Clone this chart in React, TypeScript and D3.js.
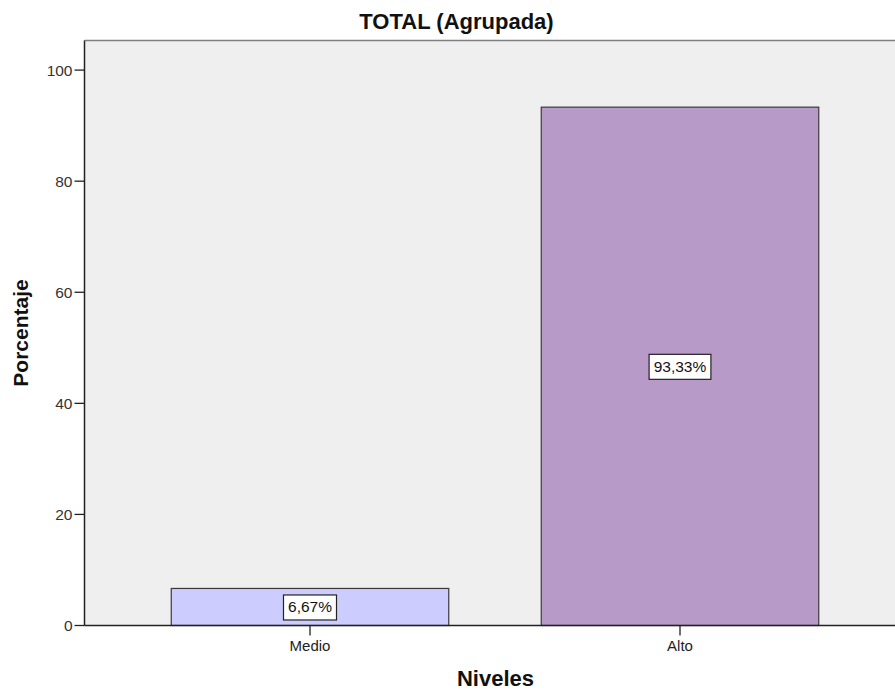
import React from "react";
import * as d3 from "d3";

const categories = ["Medio", "Alto"];
const values = [6.67, 93.33];
const valueLabels = ["6,67%", "93,33%"];
const barColors = ["#ccccff", "#b89ac9"];
const yTicks = [0, 20, 40, 60, 80, 100];

const W = 895;
const H = 690;
const plotLeft = 84.5;
const plotRight = 895;
const plotTop = 40.5;
const plotBottom = 625.5;
const FONT = "'Liberation Sans', Arial, sans-serif";

export default function App() {
  const x = d3
    .scaleBand<string>()
    .domain(categories)
    .range([125, 865])
    .paddingInner(0.25)
    .paddingOuter(0.125);
  const y = d3.scaleLinear().domain([0, 105.33]).range([plotBottom, plotTop]);

  return (
    <svg
      width={W}
      height={H}
      style={{ position: "absolute", left: 0, top: 0, background: "#fff" }}
      fontFamily={FONT}
    >
      <rect x={plotLeft} y={plotTop} width={plotRight - plotLeft} height={plotBottom - plotTop} fill="#efefef" />
      <line x1={plotLeft} x2={plotRight} y1={plotTop} y2={plotTop} stroke="#808080" strokeWidth={1.5} />
      {categories.map((c, i) => {
        const x0 = x(c)!;
        const bw = x.bandwidth();
        const yv = y(values[i]);
        const cy = (yv + y(0)) / 2;
        const label = valueLabels[i];
        const tw = label.length * 8.8 + 9;
        return (
          <g key={c}>
            <rect x={x0} y={yv} width={bw} height={y(0) - yv} fill={barColors[i]} stroke="#3a3a3a" strokeWidth={1.2} />
            <rect x={x0 + bw / 2 - tw / 2} y={cy - 12} width={tw} height={25} fill="#fff" stroke="#222" strokeWidth={1.2} />
            <text x={x0 + bw / 2} y={cy + 5.5} textAnchor="middle" fontSize={15.5} fill="#111">
              {label}
            </text>
          </g>
        );
      })}
      <line x1={plotLeft} x2={plotLeft} y1={plotTop} y2={plotBottom} stroke="#222" strokeWidth={1.5} />
      <line x1={plotLeft} x2={plotRight} y1={plotBottom} y2={plotBottom} stroke="#222" strokeWidth={1.5} />
      {yTicks.map((t) => (
        <g key={t}>
          <line x1={plotLeft - 10} x2={plotLeft} y1={y(t)} y2={y(t)} stroke="#222" strokeWidth={1.3} />
          <text x={plotLeft - 12} y={y(t) + 5.5} textAnchor="end" fontSize={15.5} fill="#333">
            {t}
          </text>
        </g>
      ))}
      {categories.map((c) => {
        const cx = x(c)! + x.bandwidth() / 2;
        return (
          <g key={c}>
            <line x1={cx} x2={cx} y1={plotBottom} y2={plotBottom + 10} stroke="#222" strokeWidth={1.3} />
            <text x={cx} y={651} textAnchor="middle" fontSize={15} fill="#222">
              {c}
            </text>
          </g>
        );
      })}
      <text x={456.5} y={29} textAnchor="middle" fontSize={22} fontWeight="bold" fill="#111">
        TOTAL (Agrupada)
      </text>
      <text x={495.5} y={686} textAnchor="middle" fontSize={22} fontWeight="bold" fill="#111">
        Niveles
      </text>
      <text
        transform={`translate(28, 333) rotate(-90)`}
        textAnchor="middle"
        fontSize={21}
        fontWeight="bold"
        fill="#111"
      >
        Porcentaje
      </text>
    </svg>
  );
}
